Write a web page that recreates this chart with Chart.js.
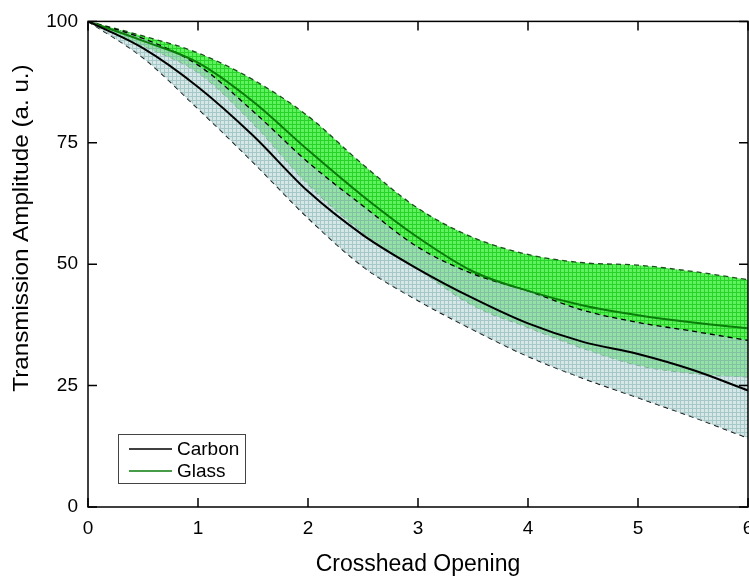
<!DOCTYPE html>
<html>
<head>
<meta charset="utf-8">
<script src="https://cdn.jsdelivr.net/npm/chart.js@4.4.1/dist/chart.umd.min.js"></script>
<style>
  html, body { margin: 0; padding: 0; background: #fff; overflow: hidden; }
  #wrap { width: 770px; height: 579px; }
</style>
</head>
<body>
<div id="wrap"><canvas id="myChart" width="770" height="579"></canvas></div>
<script>
// values
const xs = [0, 0.5, 1, 1.5, 2, 2.5, 3, 3.5, 4, 4.5, 5, 5.5, 6];
const carbonMean  = [100, 94.5, 86.5, 76.5, 65, 56, 49, 43, 37.8, 34, 31.5, 28.2, 24];
const carbonUpper = [100, 96.5, 91, 81.5, 71, 62, 53.5, 48, 44.5, 40.5, 38, 36.2, 34.3];
const carbonLower = [100, 92.5, 82, 71, 59.5, 49.5, 42.5, 36.5, 31, 26.5, 22.5, 18.5, 14.2];
const glassMean   = [100, 96, 91.5, 83.5, 73.5, 64, 55.5, 48.5, 44.5, 41.5, 39.5, 38, 36.8];
const glassUpper  = [100, 97, 93.5, 88, 80.5, 70.5, 61.5, 55.5, 52, 50.3, 49.8, 48.5, 46.8];
const glassLower  = [100, 95, 89.5, 79, 66.5, 56.5, 49, 41.5, 37, 32.7, 29.2, 27.5, 26.8];
const xTicks = [0, 1, 2, 3, 4, 5, 6];
const yTicks = [0, 25, 50, 75, 100];

const ctx = document.querySelector("#myChart").getContext('2d');
const FONT = "'Liberation Sans', Arial, sans-serif";

function hatch(base, line) {
  const c = document.createElement('canvas');
  c.width = 4; c.height = 4;
  const g = c.getContext('2d');
  g.fillStyle = base;
  g.fillRect(0, 0, 4, 4);
  g.fillStyle = line;
  g.fillRect(0, 0, 4, 1);
  g.fillRect(0, 1, 1, 3);
  return ctx.createPattern(c, 'repeat');
}

const pts = arr => arr.map((v, i) => ({x: xs[i], y: v}));

function line(label, arr, color, dash, width, fill, bg) {
  return {
    label: label,
    data: pts(arr),
    borderColor: color,
    borderWidth: width,
    borderDash: dash,
    pointRadius: 0,
    cubicInterpolationMode: 'monotone',
    fill: fill,
    backgroundColor: bg || 'transparent'
  };
}

// index 0 is drawn last (on top)
const datasets = [
  line('Carbon', carbonMean, '#000000', [], 2, false),
  line('Glass', glassMean, '#0a7d0a', [], 2, false),
  line('carbonUpper', carbonUpper, '#000000', [5, 4], 1.3, '+1', hatch('rgba(185,215,215,0.6)', 'rgba(135,180,180,0.6)')),
  line('carbonLower', carbonLower, '#000000', [5, 4], 1.3, false),
  line('glassUpper', glassUpper, '#1d4d1d', [5, 4], 1.3, '+1', hatch('rgb(95,242,95)', 'rgb(40,210,40)')),
  line('glassLower', glassLower, '#1d4d1d', [5, 4], 1.3, false)
];

const frame = {
  id: 'frame',
  afterDraw(chart) {
    const c = chart.ctx, a = chart.chartArea;
    const xs_ = chart.scales.x, ys_ = chart.scales.y;
    c.save();
    c.strokeStyle = '#000';
    c.lineWidth = 1.5;
    c.strokeRect(a.left, a.top, a.right - a.left, a.bottom - a.top);
    c.beginPath();
    xTicks.forEach(t => {
      const p = xs_.getPixelForValue(t);
      c.moveTo(p, a.bottom); c.lineTo(p, a.bottom - 9);
      c.moveTo(p, a.top); c.lineTo(p, a.top + 9);
    });
    yTicks.forEach(t => {
      const p = ys_.getPixelForValue(t);
      c.moveTo(a.left, p); c.lineTo(a.left + 9, p);
      c.moveTo(a.right, p); c.lineTo(a.right - 9, p);
    });
    c.stroke();

    // y title
    c.translate(22, 228);
    c.rotate(-Math.PI / 2);
    c.scale(1.1, 1);
    c.fillStyle = '#000';
    c.font = '22px ' + FONT;
    c.textAlign = 'center';
    c.textBaseline = 'middle';
    c.fillText('Transmission Amplitude (a. u.)', 0, 0);
    c.restore();

    // legend box
    c.save();
    c.fillStyle = '#fff';
    c.fillRect(118, 434, 127, 49);
    c.strokeStyle = '#444';
    c.lineWidth = 1;
    c.strokeRect(118.5, 434.5, 127, 49);
    c.font = '19px ' + FONT;
    c.textBaseline = 'middle';
    [0, 1].forEach((i, k) => {
      const ds = chart.data.datasets[i];
      const y = 449 + k * 22;
      c.strokeStyle = ds.borderColor;
      c.lineWidth = 1.5;
      c.beginPath(); c.moveTo(129, y); c.lineTo(172, y); c.stroke();
      c.fillStyle = '#000';
      c.fillText(ds.label, 177, y + 1);
    });
    c.restore();
  }
};

new Chart(ctx, {
  type: 'line',
  data: { datasets: datasets },
  options: {
    responsive: false,
    animation: false,
    layout: { padding: { left: 0, top: 20, right: 22, bottom: 0 } },
    plugins: {
      legend: { display: false },
      tooltip: { enabled: false },
      filler: { propagate: false }
    },
    scales: {
      x: {
        type: 'linear',
        min: 0, max: 6,
        afterFit: s => { s.height = 72; },
        afterBuildTicks: s => { s.ticks = xTicks.map(v => ({value: v})); },
        grid: { display: false, drawTicks: false },
        border: { display: false },
        ticks: { color: '#000', padding: 10, font: { size: 19, family: FONT }, maxRotation: 0 },
        title: { display: true, text: 'Crosshead Opening', color: '#000', padding: { top: 0, bottom: 1 }, font: { size: 23, family: FONT } }
      },
      y: {
        min: 0, max: 100,
        afterFit: s => { s.width = 88; },
        afterBuildTicks: s => { s.ticks = yTicks.map(v => ({value: v})); },
        grid: { display: false, drawTicks: false },
        border: { display: false },
        ticks: { color: '#000', padding: 10, font: { size: 19, family: FONT } }
      }
    }
  },
  plugins: [frame]
});
</script>
</body>
</html>
